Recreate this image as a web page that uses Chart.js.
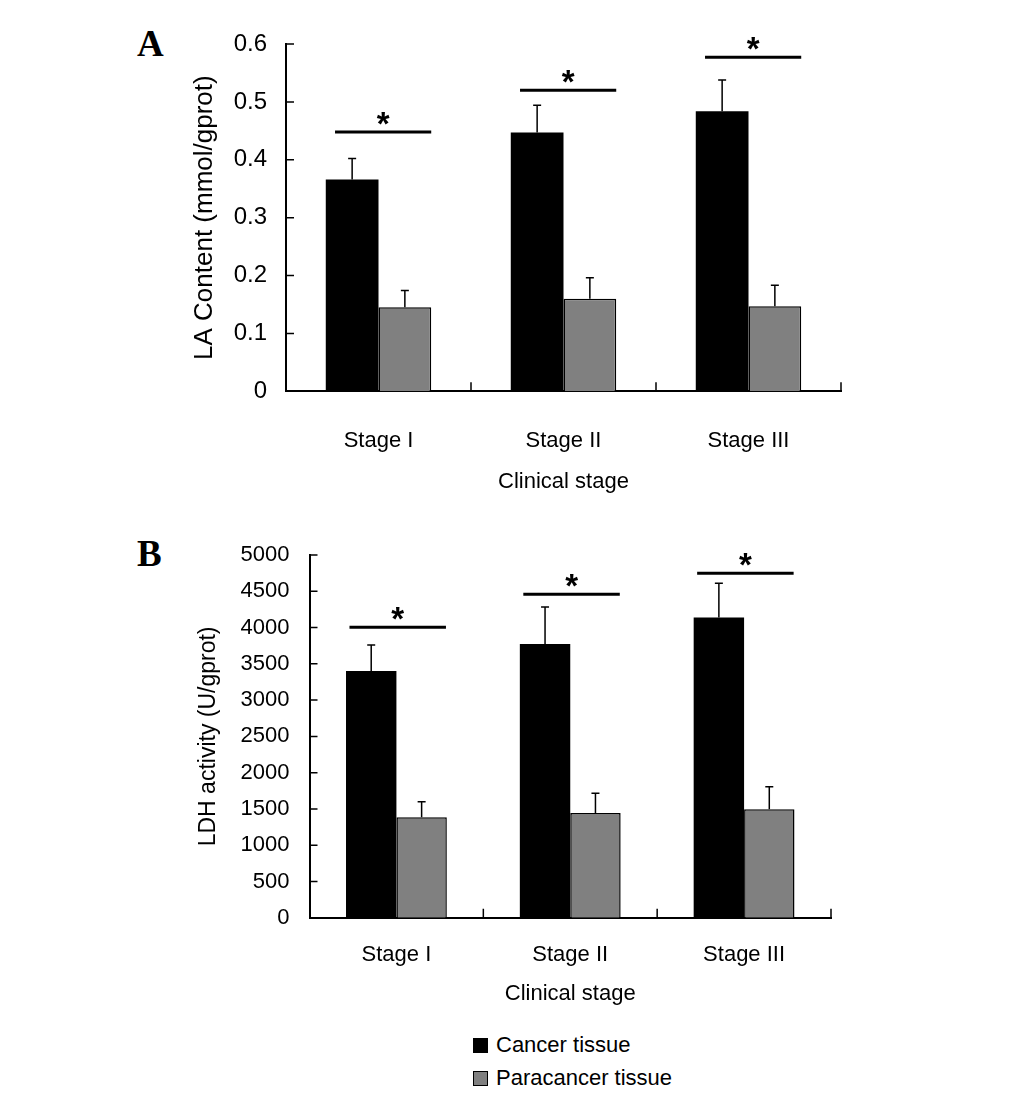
<!DOCTYPE html>
<html>
<head>
<meta charset="utf-8">
<script src="https://cdn.jsdelivr.net/npm/chart.js@4.4.1/dist/chart.umd.min.js"></script>
<style>
  body { margin: 0; background: #fff; width: 1033px; height: 1099px; position: relative; overflow: hidden; font-family: Arial, 'Liberation Sans', sans-serif; }
  canvas { position: absolute; left: 0; }
  .panel { position: absolute; font-family: 'Times New Roman', 'Liberation Serif', serif; font-weight: bold; font-size: 37px; line-height: 37px; }
  .legend-row { position: absolute; left: 473px; height: 26px; display: flex; align-items: center; font-size: 22px; color: #000; }
  .legend-row span.box { width: 13px; height: 13px; border: 1px solid #000; margin-right: 8px; }
</style>
</head>
<body>
<div class="panel" style="left:137px; top:25px;">A</div>
<div class="panel" style="left:137px; top:535px;">B</div>
<canvas id="chartA" width="1033" height="510" style="top:0"></canvas>
<canvas id="chartB" width="1033" height="510" style="top:510px"></canvas>
<div id="legend"></div>
<script>
// categories and series
const stages = ['Stage I', 'Stage II', 'Stage III'];
const seriesNames = ['Cancer tissue', 'Paracancer tissue'];
const seriesColors = ['#000000', '#808080'];

// panel A: lactic acid content
const laCancer = [0.366, 0.447, 0.484];
const laCancerErr = [0.036, 0.047, 0.054];
const laPara = [0.145, 0.160, 0.147];
const laParaErr = [0.029, 0.036, 0.036];
const laSig = [0.448, 0.520, 0.577];
const laTickLabels = ['0', '0.1', '0.2', '0.3', '0.4', '0.5', '0.6'];

// panel B: LDH activity
const ldhCancer = [3400, 3775, 4140];
const ldhCancerErr = [360, 510, 470];
const ldhPara = [1385, 1445, 1495];
const ldhParaErr = [215, 270, 310];
const ldhSig = [4005, 4460, 4750];
const ldhTickLabels = ['0', '500', '1000', '1500', '2000', '2500', '3000', '3500', '4000', '4500', '5000'];

const FONT = "Arial, 'Liberation Sans', sans-serif";

// error bars, significance lines and inward tick marks
const annotate = {
  id: 'annotate',
  afterDatasetsDraw(chart, args, opts) {
    const { ctx } = chart;
    const x = chart.scales.x, y = chart.scales.y;
    ctx.save();
    ctx.strokeStyle = '#000';
    ctx.fillStyle = '#000';
    opts.errors.forEach((errs, di) => {
      chart.getDatasetMeta(di).data.forEach((bar, i) => {
        const v = chart.data.datasets[di].data[i];
        const top = y.getPixelForValue(v + errs[i]);
        ctx.lineWidth = 1.5;
        ctx.beginPath();
        ctx.moveTo(bar.x, bar.y);
        ctx.lineTo(bar.x, top);
        ctx.moveTo(bar.x - 4, top);
        ctx.lineTo(bar.x + 4, top);
        ctx.stroke();
      });
    });
    const w = x.getPixelForTick(1) - x.getPixelForTick(0);
    opts.sig.forEach((lvl, i) => {
      const cx = x.getPixelForValue(i);
      const x0 = cx + opts.span[0] * w, x1 = cx + opts.span[1] * w;
      const yy = y.getPixelForValue(lvl);
      ctx.lineWidth = 3;
      ctx.beginPath();
      ctx.moveTo(x0, yy);
      ctx.lineTo(x1, yy);
      ctx.stroke();
      ctx.font = 'bold 33px ' + FONT;
      ctx.textAlign = 'center';
      ctx.textBaseline = 'alphabetic';
      ctx.fillText('*', (x0 + x1) / 2, yy + 3);
    });
    ctx.restore();
  },
  afterDraw(chart) {
    const { ctx, chartArea } = chart;
    const x = chart.scales.x, y = chart.scales.y;
    ctx.save();
    ctx.strokeStyle = '#000';
    ctx.lineWidth = 1.5;
    ctx.beginPath();
    y.ticks.forEach((t, i) => {
      const py = y.getPixelForTick(i);
      ctx.moveTo(chartArea.left, py);
      ctx.lineTo(chartArea.left + 8, py);
    });
    const w = x.getPixelForTick(1) - x.getPixelForTick(0);
    x.ticks.forEach((t, i) => {
      const px = x.getPixelForTick(i) + w / 2;
      ctx.moveTo(px, chartArea.bottom);
      ctx.lineTo(px, chartArea.bottom - 9);
    });
    ctx.stroke();
    ctx.restore();
  }
};

function makeChart(id, cfg) {
  return new Chart(document.getElementById(id), {
    type: 'bar',
    data: {
      labels: stages,
      datasets: [
        { label: seriesNames[0], data: cfg.cancer, backgroundColor: seriesColors[0], borderColor: '#000', borderWidth: 0 },
        { label: seriesNames[1], data: cfg.para, backgroundColor: seriesColors[1], borderColor: '#000', borderWidth: 1.5 }
      ]
    },
    options: {
      responsive: false,
      animation: false,
      datasets: { bar: { barPercentage: 1.0, categoryPercentage: cfg.catPct } },
      layout: { padding: cfg.padding },
      plugins: {
        legend: { display: false },
        tooltip: { enabled: false },
        annotate: { errors: [cfg.cancerErr, cfg.paraErr], sig: cfg.sig, span: cfg.span }
      },
      scales: {
        x: {
          grid: { display: false, drawTicks: false },
          border: { display: true, color: '#000', width: 2 },
          ticks: { color: '#000', padding: cfg.xPad, font: { family: FONT, size: 22 } },
          title: { display: true, text: 'Clinical stage', color: '#000', font: { family: FONT, size: 22 } },
          afterFit: (s) => { s.height = cfg.xHeight; }
        },
        y: {
          min: 0, max: cfg.max,
          grid: { display: false, drawTicks: false },
          border: { display: true, color: '#000', width: 2 },
          ticks: {
            stepSize: cfg.step, color: '#000', padding: cfg.yPad,
            font: { family: FONT, size: cfg.tickSize },
            callback: (v, i) => cfg.tickLabels[i]
          },
          title: { display: true, text: cfg.yTitle, color: '#000', font: { family: FONT, size: cfg.yTitleSize } },
          afterFit: (s) => { s.width = cfg.yWidth; }
        }
      }
    },
    plugins: [annotate]
  });
}

makeChart('chartA', {
  cancer: laCancer, para: laPara, cancerErr: laCancerErr, paraErr: laParaErr,
  sig: laSig, span: [-0.235, 0.285], catPct: 0.57,
  max: 0.6, step: 0.1, tickLabels: laTickLabels, tickSize: 24,
  yTitle: 'LA Content (mmol/gprot)', yTitleSize: 26,
  padding: { left: 185, right: 192, top: 44, bottom: 11 },
  yWidth: 101, xHeight: 107.7, xPad: 36, yPad: 19
});

makeChart('chartB', {
  cancer: ldhCancer, para: ldhPara, cancerErr: ldhCancerErr, paraErr: ldhParaErr,
  sig: ldhSig, span: [-0.27, 0.285], catPct: 0.58,
  max: 5000, step: 500, tickLabels: ldhTickLabels, tickSize: 22,
  yTitle: 'LDH activity (U/gprot)', yTitleSize: 23,
  padding: { left: 191, right: 202, top: 45, bottom: 9 },
  yWidth: 118.5, xHeight: 93.2, xPad: 24, yPad: 20
});

// legend below panel B
const legend = document.getElementById('legend');
seriesNames.forEach((name, i) => {
  const row = document.createElement('div');
  row.className = 'legend-row';
  row.style.top = (1032 + i * 33) + 'px';
  row.innerHTML = '<span class="box" style="background:' + seriesColors[i] + '"></span>' + name;
  legend.appendChild(row);
});
</script>
</body>
</html>
